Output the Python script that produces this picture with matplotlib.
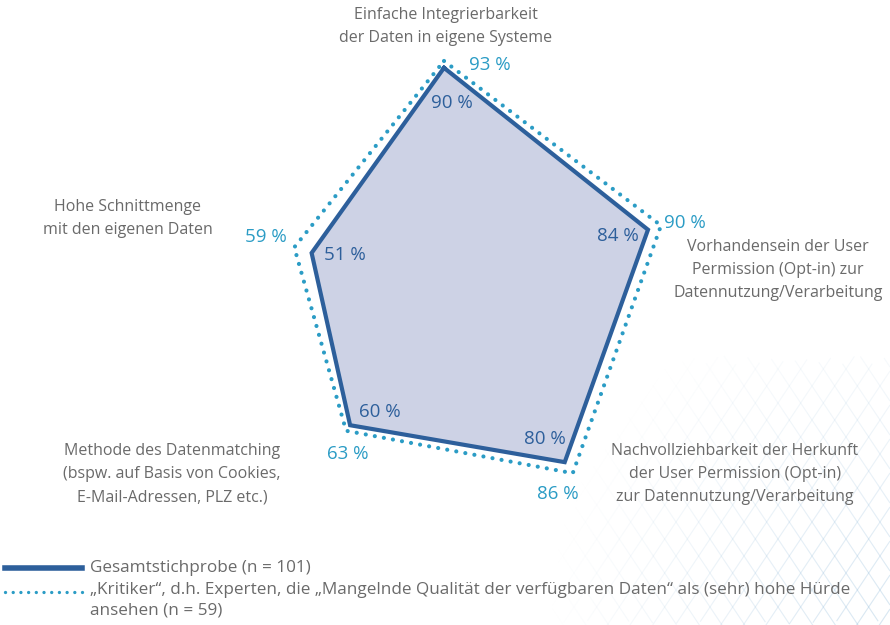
import numpy as np
import matplotlib
matplotlib.use("Agg")
import matplotlib.pyplot as plt
from matplotlib.lines import Line2D
from matplotlib.collections import LineCollection

plt.rcParams['font.family'] = ['Open Sans', 'DejaVu Sans']

# data
categories = [
    "Einfache Integrierbarkeit\nder Daten in eigene Systeme",
    "Vorhandensein der User\nPermission (Opt-in) zur\nDatennutzung/Verarbeitung",
    "Nachvollziehbarkeit der Herkunft\nder User Permission (Opt-in)\nzur Datennutzung/Verarbeitung",
    "Methode des Datenmatching\n(bspw. auf Basis von Cookies,\nE-Mail-Adressen, PLZ etc.)",
    "Hohe Schnittmenge\nmit den eigenen Daten",
]
gesamt = [90, 84, 80, 60, 51]
kritiker = [93, 90, 86, 63, 59]
legend_labels = [
    "Gesamtstichprobe (n = 101)",
    "\u201eKritiker\u201c, d.h. Experten, die \u201eMangelnde Qualit\u00e4t der verf\u00fcgbaren Daten\u201c als (sehr) hohe H\u00fcrde\nansehen (n = 59)",
]

dark = "#2d5f9b"
cyan = "#2b9cc5"
fill_col = "#cdd2e5"
grey = "#6a6a6a"

W, H = 890, 625
fig = plt.figure(figsize=(W / 100, H / 100), dpi=100)

# faint decorative grid in the lower right corner
bg = fig.add_axes([0, 0, 1, 1])
bg.set_xlim(0, W)
bg.set_ylim(H, 0)
bg.axis("off")
segs, cols = [], []
for c in np.arange(-600, 1800, 34):
    for sgn in (1, -1):
        xs = np.linspace(540, W, 60)
        ys = c + sgn * 1.5 * (xs - 540)
        for i in range(len(xs) - 1):
            xm, ym = (xs[i] + xs[i + 1]) / 2, (ys[i] + ys[i + 1]) / 2
            if ym < 360 or ym > H:
                continue
            d = np.hypot(W - xm, H - ym)
            a = max(0.0, 1 - d / 340) * 0.35
            if a <= 0:
                continue
            segs.append([(xs[i], ys[i]), (xs[i + 1], ys[i + 1])])
            cols.append((0.55, 0.72, 0.85, a))
bg.add_collection(LineCollection(segs, colors=cols, linewidths=0.8))

# radar axes: centre at (444, 296) px, 2.28 px per percentage point
cx, cy, R = 444, 296, 251
ax = fig.add_axes([(cx - R) / W, (H - cy - R) / H, 2 * R / W, 2 * R / H],
                  projection="polar")
ax.set_theta_offset(np.pi / 2)
ax.set_theta_direction(-1)
ax.set_ylim(-10, 100)
ax.axis("off")

theta = np.linspace(0, 2 * np.pi, len(categories), endpoint=False)
th = np.append(theta, theta[0])
g = np.append(gesamt, gesamt[0])
k = np.append(kritiker, kritiker[0])

ax.fill(th, g, color=fill_col, zorder=1)
ax.plot(th, g, color=dark, lw=3.0, solid_joinstyle="miter", zorder=3)
ax.plot(th, k, color=cyan, lw=3.0, linestyle=(0, (0.01, 2.2)),
        dash_capstyle="round", zorder=2)

# value labels (pixel offsets from each vertex, y up)
g_off = [(8, -35), (-30, -6), (-20, 23), (30, 13), (33, -2)]
k_off = [(46, -4), (24, 2), (-15, -21), (2, -23), (-28, 10)]
for t, v, o in zip(theta, gesamt, g_off):
    ax.annotate(f"{v} %", (t, v), xytext=o, textcoords="offset pixels",
                ha="center", va="center", color=dark, fontsize=13.5)
for t, v, o in zip(theta, kritiker, k_off):
    ax.annotate(f"{v} %", (t, v), xytext=o, textcoords="offset pixels",
                ha="center", va="center", color=cyan, fontsize=13.5)

# category labels (pixel positions of the text block top centre)
cat_pos = [(446, 7), (778, 239), (735, 443), (172, 443), (128, 199)]
for txt, (px, py) in zip(categories, cat_pos):
    fig.text(px / W, 1 - py / H, txt, ha="center", va="top", color=grey,
             fontsize=11.5, linespacing=1.6)

# legend drawn by hand
fig.add_artist(Line2D([5 / W, 82 / W], [1 - 568 / H, 1 - 568 / H], color=dark, lw=4))
fig.add_artist(Line2D([5 / W, 82 / W], [1 - 592 / H, 1 - 592 / H], color=cyan, lw=2.4,
                      linestyle=(0, (0.01, 2.3)), dash_capstyle="round"))
fig.text(90 / W, 1 - 568 / H, legend_labels[0], ha="left", va="center", color=grey, fontsize=12.3)
fig.text(90 / W, 1 - 582 / H, legend_labels[1], ha="left", va="top", color=grey,
         fontsize=12.3, linespacing=1.4)

fig.savefig("out.png", dpi=100)
